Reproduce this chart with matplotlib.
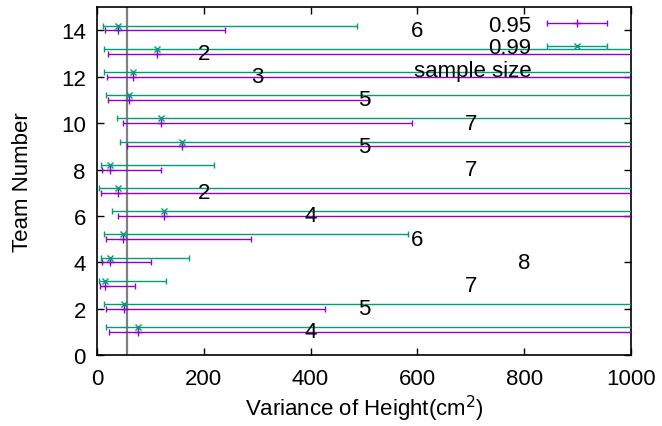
import matplotlib
matplotlib.use("Agg")
import matplotlib.pyplot as plt
from matplotlib.lines import Line2D
from matplotlib.legend_handler import HandlerErrorbar

plt.rcParams['font.family'] = ['Liberation Sans', 'DejaVu Sans']
plt.rcParams['font.size'] = 16

# datos
equipos = [1, 2, 3, 4, 5, 6, 7, 8, 9, 10, 11, 12, 13, 14]
muestra = [4, 5, 7, 8, 6, 4, 2, 7, 5, 7, 5, 3, 2, 6]
varianza = [77, 51, 14.5, 24, 48, 125, 39, 24, 160, 120, 60, 68, 112, 39]

# intervalo 0.95
inf_95 = [23, 17.5, 6, 9.5, 17, 39, 7.5, 9, 56, 49, 21, 18.5, 21.5, 14.5]
sup_95 = [1070, 428, 71, 101, 288, 1650, 1550000, 120, 1320, 590, 510, 2690, 4430000, 240]
# intervalo 0.99
inf_99 = [17, 13, 4.5, 7.5, 12.5, 28, 4.5, 7, 43, 38, 16, 12.5, 14, 11]
sup_99 = [3220, 1010, 130, 173, 583, 5250, 15500000, 220, 3090, 1070, 1160, 5380, 44000000, 487]

linea_ref = 57

morado = '#9400d3'
verde = '#009e73'

fig, ax = plt.subplots(figsize=(6.62, 4.27), dpi=100)
fig.subplots_adjust(left=0.1465, right=0.953, bottom=0.166, top=0.981)

ax.axvline(linea_ref, color='#808080', lw=1.6, zorder=1)

err95 = [[v - a for v, a in zip(varianza, inf_95)],
         [b - v for v, b in zip(varianza, sup_95)]]
err99 = [[v - a for v, a in zip(varianza, inf_99)],
         [b - v for v, b in zip(varianza, sup_99)]]
y99 = [e + 0.2 for e in equipos]

e95 = ax.errorbar(varianza, equipos, xerr=err95, fmt='+', color=morado,
                  ecolor=morado, elinewidth=1, capsize=2.5, capthick=1,
                  ms=6, mew=1, label='0.95', zorder=3)
e99 = ax.errorbar(varianza, y99, xerr=err99, fmt='x', color=verde,
                  ecolor=verde, elinewidth=1, capsize=2.5, capthick=1,
                  ms=4, mew=1, label='0.99', zorder=3)

for n, eq in zip(muestra, equipos):
    ax.text(n * 100, eq, str(n), ha='center', va='center', zorder=4)

vacio = Line2D([], [], linestyle='none')
ax.legend([e95, e99, vacio], ['0.95', '0.99', 'sample size'],
          loc='upper right', bbox_to_anchor=(0.955, 0.978),
          markerfirst=False, frameon=False,
          handlelength=2.7, handletextpad=0.7, labelspacing=0.07,
          borderaxespad=0, borderpad=0,
          handler_map={e95: HandlerErrorbar(xerr_size=1.35),
                       e99: HandlerErrorbar(xerr_size=1.35)})

ax.set_xlim(0, 1000)
ax.set_ylim(0, 15)
ax.set_xticks([0, 200, 400, 600, 800, 1000])
ax.set_yticks([0, 2, 4, 6, 8, 10, 12, 14])
ax.tick_params(direction='in', top=True, right=True, length=5, width=1)
ax.tick_params(axis='x', pad=9)
ax.tick_params(axis='y', pad=8)
ax.set_xlabel('Variance of Height(cm$^2$)', labelpad=3)
ax.set_ylabel('Team Number', labelpad=20)
for s in ax.spines.values():
    s.set_linewidth(1.2)

plt.savefig('out.png', dpi=100)
